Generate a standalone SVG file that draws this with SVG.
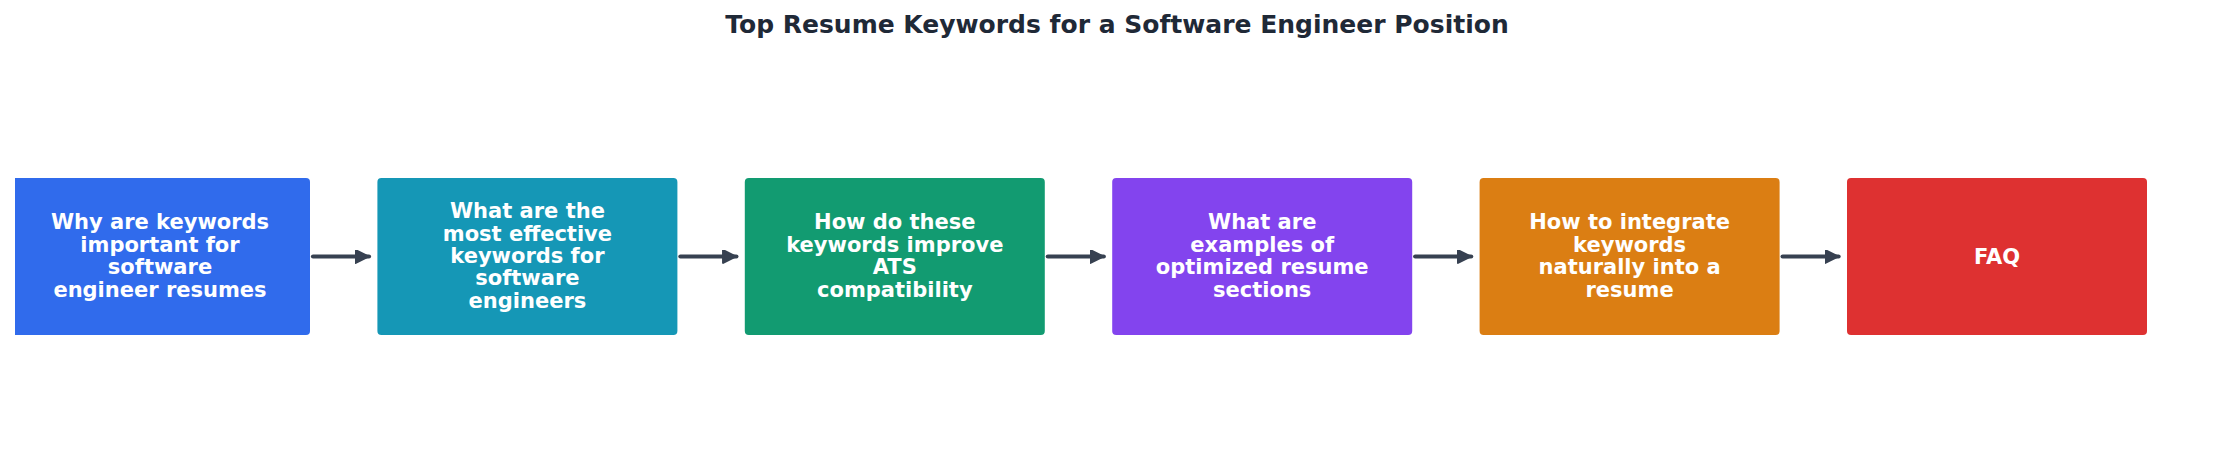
<svg xmlns="http://www.w3.org/2000/svg" width="2235" height="462" viewBox="0 0 2235 462">
<style>
.box{fill-opacity:0.95;}
.lbl{font-family:"DejaVu Sans",sans-serif;font-weight:bold;font-size:21px;fill:#ffffff;text-anchor:middle;}
.title{font-family:"DejaVu Sans",sans-serif;font-weight:bold;font-size:25px;fill:#1f2937;text-anchor:middle;}
.conn{stroke:#374151;stroke-width:4.2;stroke-linecap:round;fill:none;}
</style>
<defs>
<marker id="ah" viewBox="0 0 10 10" refX="10" refY="5" markerWidth="14" markerHeight="14" markerUnits="userSpaceOnUse" orient="auto">
<path d="M0.5,0.5 L9.5,5 L0.5,9.5 Z" fill="#374151" stroke="#374151" stroke-linejoin="round" stroke-width="1.5"/>
</marker>
<clipPath id="clipL"><rect x="15" y="0" width="2220" height="462"/></clipPath>
</defs>
<rect x="0" y="0" width="2235" height="462" fill="#ffffff"/>
<text class="title" x="1117" y="33">Top Resume Keywords for a Software Engineer Position</text>
<g id="connectors">
<line class="conn" x1="313" y1="256.5" x2="369" y2="256.5" marker-end="url(#ah)"/>
<line class="conn" x1="680.4" y1="256.5" x2="736.4" y2="256.5" marker-end="url(#ah)"/>
<line class="conn" x1="1047.8" y1="256.5" x2="1103.8" y2="256.5" marker-end="url(#ah)"/>
<line class="conn" x1="1415.2" y1="256.5" x2="1471.2" y2="256.5" marker-end="url(#ah)"/>
<line class="conn" x1="1782.6" y1="256.5" x2="1838.6" y2="256.5" marker-end="url(#ah)"/>
</g>
<g id="node1">
<rect class="box" x="10" y="178" width="300" height="157" rx="4" fill="#2563eb" clip-path="url(#clipL)"/>
<text class="lbl" x="160"><tspan x="160" y="229.3">Why are keywords</tspan><tspan x="160" y="251.7">important for</tspan><tspan x="160" y="274.1">software</tspan><tspan x="160" y="296.5">engineer resumes</tspan></text>
</g>
<g id="node2">
<rect class="box" x="377.4" y="178" width="300" height="157" rx="4" fill="#0891b2"/>
<text class="lbl"><tspan x="527.4" y="218.1">What are the</tspan><tspan x="527.4" y="240.5">most effective</tspan><tspan x="527.4" y="262.9">keywords for</tspan><tspan x="527.4" y="285.3">software</tspan><tspan x="527.4" y="307.7">engineers</tspan></text>
</g>
<g id="node3">
<rect class="box" x="744.8" y="178" width="300" height="157" rx="4" fill="#059669"/>
<text class="lbl"><tspan x="894.8" y="229.3">How do these</tspan><tspan x="894.8" y="251.7">keywords improve</tspan><tspan x="894.8" y="274.1">ATS</tspan><tspan x="894.8" y="296.5">compatibility</tspan></text>
</g>
<g id="node4">
<rect class="box" x="1112.2" y="178" width="300" height="157" rx="4" fill="#7c3aed"/>
<text class="lbl"><tspan x="1262.2" y="229.3">What are</tspan><tspan x="1262.2" y="251.7">examples of</tspan><tspan x="1262.2" y="274.1">optimized resume</tspan><tspan x="1262.2" y="296.5">sections</tspan></text>
</g>
<g id="node5">
<rect class="box" x="1479.6" y="178" width="300" height="157" rx="4" fill="#d97706"/>
<text class="lbl"><tspan x="1629.6" y="229.3">How to integrate</tspan><tspan x="1629.6" y="251.7">keywords</tspan><tspan x="1629.6" y="274.1">naturally into a</tspan><tspan x="1629.6" y="296.5">resume</tspan></text>
</g>
<g id="node6">
<rect class="box" x="1847" y="178" width="300" height="157" rx="4" fill="#dc2626"/>
<text class="lbl" x="1997" y="263.5">FAQ</text>
</g>
</svg>
